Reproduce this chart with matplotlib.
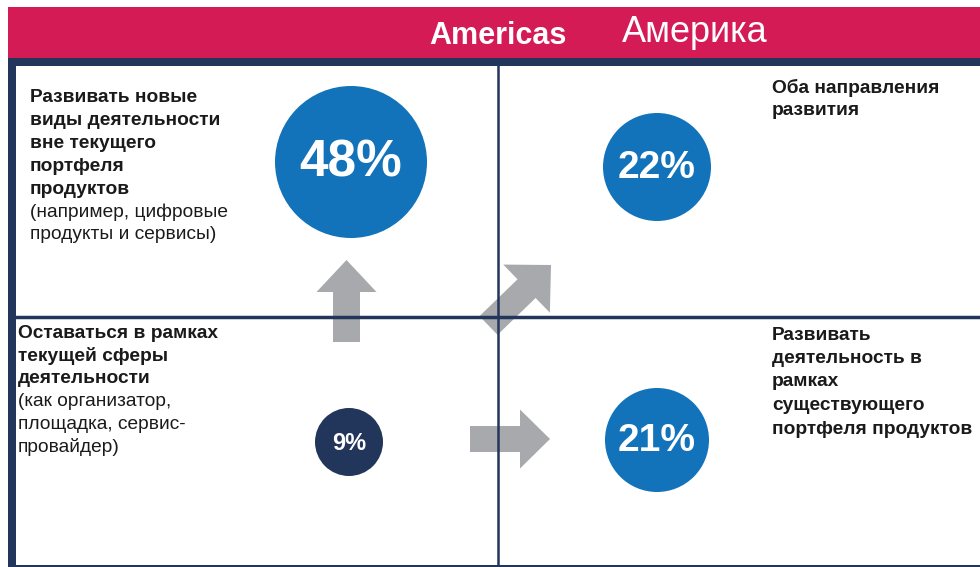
import matplotlib.pyplot as plt
from matplotlib.patches import Rectangle, Circle, FancyArrow

plt.rcParams['font.family'] = ['Liberation Sans', 'DejaVu Sans']

RED = '#d41b55'
NAVY = '#22355a'
BLUE = '#1373ba'
GREY = '#a7a9ac'
TXT = '#1a1a1a'

# values (shares of respondents, %)
shares = [48, 22, 9, 21]
labels = ['48%', '22%', '9%', '21%']
circle_xy = [(351, 162), (657, 167), (349, 442), (657, 440)]
circle_r = [76, 54, 34, 52]
circle_col = [BLUE, BLUE, NAVY, BLUE]
label_size = [37, 28, 17, 28]

# quadrant captions: (bold lines, regular lines)
tl_bold = ['Развивать новые', 'виды деятельности', 'вне текущего', 'портфеля', 'продуктов']
tl_reg = ['(например, цифровые', 'продукты и сервисы)']
bl_bold = ['Оставаться в рамках', 'текущей сферы', 'деятельности']
bl_reg = ['(как организатор,', 'площадка, сервис-', 'провайдер)']
tr_bold = ['Оба направления', 'развития']
br_bold = ['Развивать', 'деятельность в', 'рамках', 'существующего', 'портфеля продуктов']

fig = plt.figure(figsize=(9.8, 5.67), dpi=100)
ax = fig.add_axes([0, 0, 1, 1])
ax.set_xlim(0, 980)
ax.set_ylim(567, 0)
ax.axis('off')

# header bar + frame
ax.add_patch(Rectangle((8, 7), 980, 51, color=RED, lw=0))
ax.add_patch(Rectangle((8, 58), 980, 509, color=NAVY, lw=0))
ax.add_patch(Rectangle((16, 66), 980, 499, color='white', lw=0))
ax.plot([16, 980], [316.5, 316.5], color=NAVY, lw=2.5)
ax.plot([497.5, 497.5], [66, 565], color=NAVY, lw=1.8)

ax.text(498, 36, 'Americas', color='white', fontsize=22, fontweight='bold',
        ha='center', va='center')
ax.text(695, 33, 'Америка', color='white', fontsize=26, ha='center', va='center')

# arrows
ax.add_patch(FancyArrow(346.5, 342, 0, -82, width=27, head_width=60, head_length=32,
                        length_includes_head=True, color=GREY, lw=0))
ax.add_patch(FancyArrow(470, 439, 80, 0, width=26, head_width=59, head_length=30,
                        length_includes_head=True, color=GREY, lw=0))
ax.add_patch(FancyArrow(488.5, 325.5, 62.5, -60.5, width=26, head_width=67, head_length=34,
                        length_includes_head=True, color=GREY, lw=0))

# circles
for (cx, cy), r, c, lab, fs in zip(circle_xy, circle_r, circle_col, labels, label_size):
    ax.add_patch(Circle((cx, cy), r, color=c, lw=0))
    ax.text(cx, cy + 1, lab, color='white', fontsize=fs, fontweight='bold',
            ha='center', va='center')


def caption(x, y0, bold, reg, step=22.8):
    y = y0
    for line in bold:
        ax.text(x, y, line, color=TXT, fontsize=13.8, fontweight='bold', va='center')
        y += step
    for line in reg:
        ax.text(x, y, line, color=TXT, fontsize=13.8, va='center')
        y += step


caption(30, 98, tl_bold, tl_reg)
caption(18, 333, bl_bold, bl_reg)
caption(772, 88, tr_bold, [])
caption(772, 335, br_bold, [], step=23.5)

fig.savefig('out.png', dpi=100)
